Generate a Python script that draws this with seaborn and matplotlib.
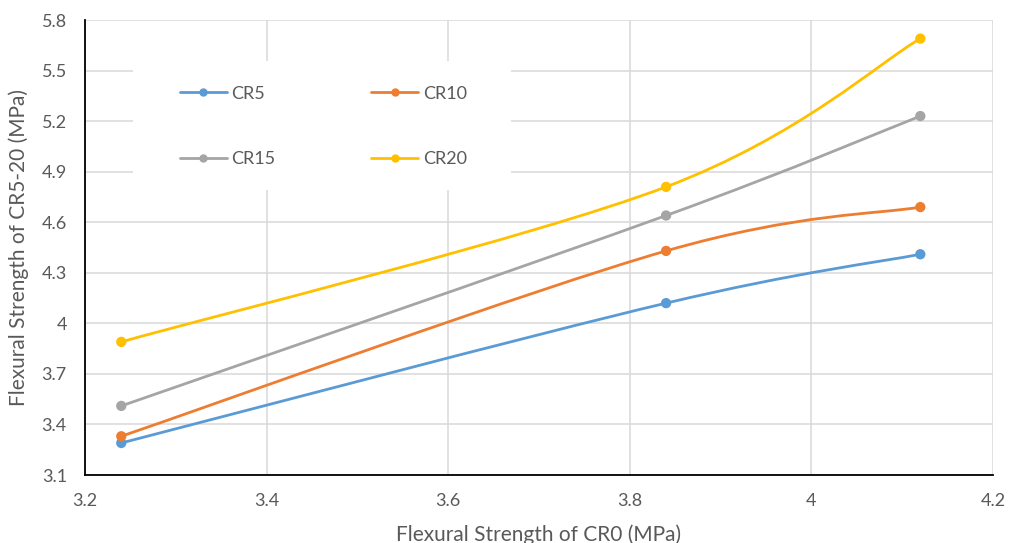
import numpy as np
import pandas as pd
import matplotlib
matplotlib.use('Agg')
import matplotlib.pyplot as plt
import seaborn as sns
from matplotlib.path import Path
from matplotlib.patches import PathPatch, Rectangle
from matplotlib.lines import Line2D

# Data
cr0 = [3.24, 3.84, 4.12]
cr5 = [3.29, 4.12, 4.41]
cr10 = [3.33, 4.43, 4.69]
cr15 = [3.51, 4.64, 5.23]
cr20 = [3.89, 4.81, 5.69]
series_names = ['CR5', 'CR10', 'CR15', 'CR20']
series_values = [cr5, cr10, cr15, cr20]
colors = ['#5B9BD5', '#ED7D31', '#A5A5A5', '#FFC000']
x_ticks = [3.2, 3.4, 3.6, 3.8, 4.0, 4.2]
x_tick_labels = ['3.2', '3.4', '3.6', '3.8', '4', '4.2']
y_ticks = [3.1, 3.4, 3.7, 4.0, 4.3, 4.6, 4.9, 5.2, 5.5, 5.8]
y_tick_labels = ['3.1', '3.4', '3.7', '4', '4.3', '4.6', '4.9', '5.2', '5.5', '5.8']

df = pd.DataFrame({
    'cr0': cr0 * len(series_names),
    'value': [v for vals in series_values for v in vals],
    'series': [s for s in series_names for _ in cr0],
})


def smooth_path(x, y):
    # Excel style smoothed line: cubic bezier through the points
    pts = np.column_stack([x, y])
    n = len(pts)
    verts = [pts[0]]
    codes = [Path.MOVETO]
    for i in range(n - 1):
        p0 = pts[max(i - 1, 0)]
        p1 = pts[i]
        p2 = pts[i + 1]
        p3 = pts[min(i + 2, n - 1)]
        verts += [p1 + (p2 - p0) / 6, p2 - (p3 - p1) / 6, p2]
        codes += [Path.CURVE4] * 3
    return Path(verts, codes)


sns.set_style('white')
plt.rcParams['font.family'] = ['Lato', 'DejaVu Sans']
text_color = '#595959'

fig = plt.figure(figsize=(10.09, 5.43), dpi=100)
ax = fig.add_axes([0.0842, 0.1252, 0.8999, 0.8379])

palette = dict(zip(series_names, colors))
for name, vals in zip(series_names, series_values):
    ax.add_patch(PathPatch(smooth_path(cr0, vals), fill=False,
                           edgecolor=palette[name], lw=2.0, zorder=3,
                           capstyle='round'))

sns.scatterplot(data=df, x='cr0', y='value', hue='series', palette=palette,
                s=55, edgecolor='none', legend=False, zorder=4, ax=ax)

ax.set_xlim(3.2, 4.2)
ax.set_ylim(3.1, 5.8)
ax.set_xticks(x_ticks)
ax.set_xticklabels(x_tick_labels)
ax.set_yticks(y_ticks)
ax.set_yticklabels(y_tick_labels)
ax.grid(True, color='#D9D9D9', lw=1.1, zorder=0)
ax.set_axisbelow(True)
ax.tick_params(axis='both', length=0, labelsize=13, colors=text_color)
ax.tick_params(axis='x', pad=13)
ax.tick_params(axis='y', pad=13)

for side in ['top', 'right']:
    ax.spines[side].set_visible(False)
for side in ['left', 'bottom']:
    ax.spines[side].set_color('black')
    ax.spines[side].set_linewidth(1.3)

ax.set_xlabel('Flexural Strength of CR0 (MPa)', fontsize=15,
              color=text_color, labelpad=11)
ax.set_ylabel('Flexural Strength of CR5-20 (MPa)', fontsize=15,
              color=text_color, labelpad=9)

# white legend area hiding the gridlines
ax.add_patch(Rectangle((0.053, 0.626), 0.416, 0.283, transform=ax.transAxes,
                       facecolor='white', edgecolor='none', zorder=1.5))

# row-wise order: CR5, CR10 / CR15, CR20
order = [0, 2, 1, 3]
handles = [Line2D([], [], color=colors[i], lw=2.0, marker='o', markersize=5)
           for i in order]
labels = [series_names[i] for i in order]
leg = ax.legend(handles, labels, ncol=2, loc='center left',
                bbox_to_anchor=(0.1046, 0.766), frameon=False, fontsize=13,
                labelspacing=2.75, handlelength=2.6, handletextpad=0.25,
                columnspacing=5.3, borderpad=0, borderaxespad=0)
for t in leg.get_texts():
    t.set_color(text_color)

fig.savefig('out.png', dpi=100)
